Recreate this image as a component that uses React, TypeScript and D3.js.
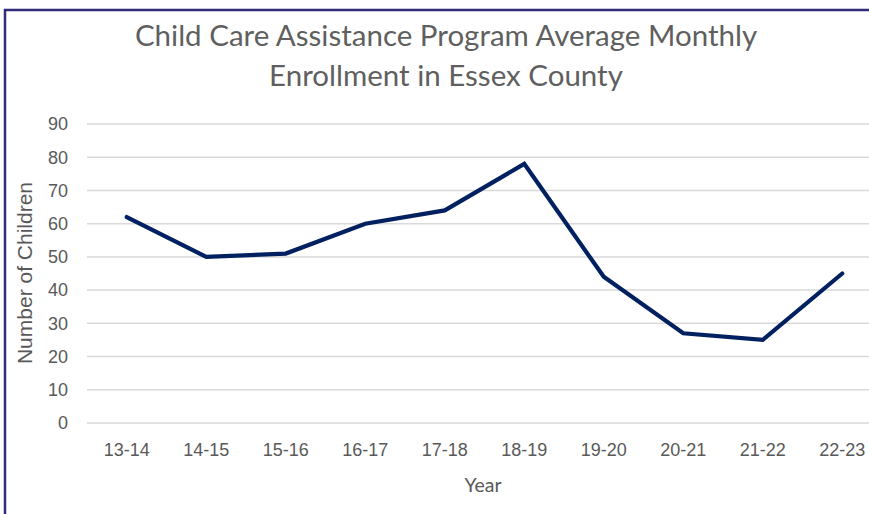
import React from "react";
import * as d3 from "d3";

const years = ["13-14", "14-15", "15-16", "16-17", "17-18", "18-19", "19-20", "20-21", "21-22", "22-23"];
const enrollment = [62, 50, 51, 60, 64, 78, 44, 27, 25, 45];
const yTicks = [0, 10, 20, 30, 40, 50, 60, 70, 80, 90];
const titleLines = ["Child Care Assistance Program Average Monthly", "Enrollment in Essex County"];
const xTitle = "Year";
const yTitle = "Number of Children";

const W = 869;
const H = 514;

export default function App() {
  const x = d3.scaleBand<string>().domain(years).range([87, 882]);
  const y = d3.scaleLinear().domain([0, 90]).range([423, 124]);
  const line = d3
    .line<number>()
    .x((_, i) => (x(years[i]) as number) + x.bandwidth() / 2)
    .y((d) => y(d));
  const tickFont = "'Liberation Sans', Arial, sans-serif";
  const titleFont = "Lato, 'Open Sans', sans-serif";
  return (
    <svg
      width={W}
      height={H}
      style={{ position: "fixed", left: 0, top: 0, background: "#fff" }}
    >
      <rect x={0} y={0} width={W} height={H} fill="#fff" />
      <rect x={5} y={10} width={W + 20} height={H + 20} fill="none" stroke="#302b7a" strokeWidth={2.5} />
      {titleLines.map((t, i) => (
        <text
          key={t}
          x={446}
          y={46 + i * 40}
          textAnchor="middle"
          fontFamily={titleFont}
          fontSize={29.5}
          fill="#5f5f5f"
        >
          {t}
        </text>
      ))}
      {yTicks.map((t) => (
        <g key={t}>
          <line x1={87} x2={882} y1={y(t)} y2={y(t)} stroke="#d9d9d9" strokeWidth={1.5} />
          <text
            x={68}
            y={y(t)}
            dy="0.35em"
            textAnchor="end"
            fontFamily={tickFont}
            fontSize={18}
            fill="#595959"
          >
            {t}
          </text>
        </g>
      ))}
      {years.map((yr) => (
        <text
          key={yr}
          x={(x(yr) as number) + x.bandwidth() / 2}
          y={456}
          textAnchor="middle"
          fontFamily={tickFont}
          fontSize={18}
          fill="#595959"
        >
          {yr}
        </text>
      ))}
      <path
        d={line(enrollment) || ""}
        fill="none"
        stroke="#002060"
        strokeWidth={4.2}
        strokeLinejoin="miter"
        strokeLinecap="round"
      />
      <text
        x={483}
        y={492}
        textAnchor="middle"
        fontFamily={titleFont}
        fontSize={19.5}
        fill="#595959"
      >
        {xTitle}
      </text>
      <text
        transform={`translate(32,273) rotate(-90)`}
        textAnchor="middle"
        fontFamily={tickFont}
        fontSize={21}
        fill="#595959"
      >
        {yTitle}
      </text>
    </svg>
  );
}
